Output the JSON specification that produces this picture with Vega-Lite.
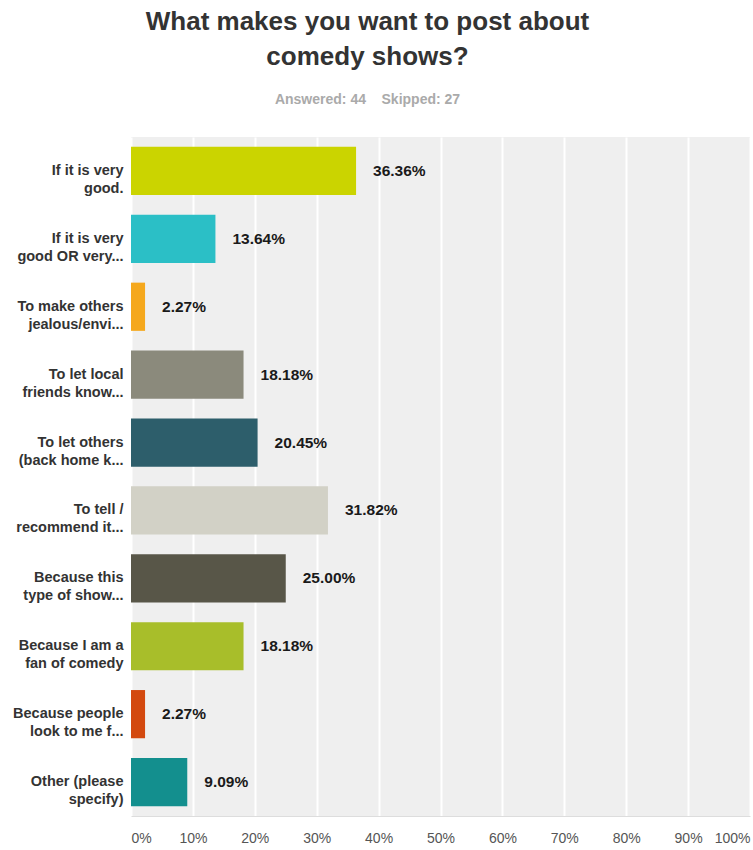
{
  "$schema": "https://vega.github.io/schema/vega-lite/v6.json",
  "width": 619,
  "height": 679,
  "autosize": {"type": "none"},
  "padding": {"left": 131, "top": 137, "right": 3, "bottom": 34},
  "background": "white",
  "title": {
    "text": ["What makes you want to post about", "comedy shows?"],
    "subtitle": "Answered: 44\u00a0\u00a0\u00a0\u00a0Skipped: 27",
    "anchor": "middle",
    "frame": "group",
    "dx": -73,
    "font": "Liberation Sans",
    "fontSize": 26,
    "fontWeight": "bold",
    "color": "#333333",
    "lineHeight": 35,
    "subtitleFont": "Liberation Sans",
    "subtitleFontSize": 14,
    "subtitleFontWeight": "bold",
    "subtitleColor": "#aaaaaa",
    "subtitlePadding": 23,
    "offset": 30
  },
  "data": {
    "values": [
      {"answer": "If it is very|good.", "pct": 0.3636, "color": "#cbd400"},
      {"answer": "If it is very|good OR very...", "pct": 0.1364, "color": "#2bbfc6"},
      {"answer": "To make others|jealous/envi...", "pct": 0.0227, "color": "#f5a81d"},
      {"answer": "To let local|friends know...", "pct": 0.1818, "color": "#8b8a7c"},
      {"answer": "To let others|(back home k...", "pct": 0.2045, "color": "#2d5e6b"},
      {"answer": "To tell /|recommend it...", "pct": 0.3182, "color": "#d2d1c6"},
      {"answer": "Because this|type of show...", "pct": 0.25, "color": "#585648"},
      {"answer": "Because I am a|fan of comedy", "pct": 0.1818, "color": "#a8be2a"},
      {"answer": "Because people|look to me f...", "pct": 0.0227, "color": "#d3490f"},
      {"answer": "Other (please|specify)", "pct": 0.0909, "color": "#138f8e"}
    ]
  },
  "config": {
    "view": {"fill": "#efefef", "stroke": null},
    "font": "Liberation Sans"
  },
  "encoding": {
    "y": {
      "field": "answer",
      "type": "nominal",
      "sort": null,
      "scale": {"paddingInner": 0.29, "paddingOuter": 0.145},
      "axis": {
        "title": null,
        "domain": false,
        "ticks": false,
        "grid": false,
        "labelExpr": "split(datum.value, '|')",
        "labelFont": "Liberation Sans",
        "labelFontSize": 14.5,
        "labelFontWeight": "bold",
        "labelColor": "#333333",
        "labelLineHeight": 18,
        "labelPadding": 8,
        "labelLimit": 200
      }
    }
  },
  "layer": [
    {
      "mark": {"type": "bar"},
      "encoding": {
        "x": {
          "field": "pct",
          "type": "quantitative",
          "scale": {"domain": [0, 1], "nice": false},
          "axis": {
            "title": null,
            "format": "%",
            "values": [0, 0.1, 0.2, 0.3, 0.4, 0.5, 0.6, 0.7, 0.8, 0.9, 1],
            "labelFlush": true,
            "labelFont": "Liberation Sans",
            "labelFontSize": 14,
            "labelColor": "#555555",
            "labelPadding": 15,
            "ticks": false,
            "domain": true,
            "domainColor": "#dddddd",
            "domainWidth": 1,
            "grid": true,
            "gridColor": "#ffffff",
            "gridWidth": 2
          }
        },
        "color": {"field": "color", "type": "nominal", "scale": null, "legend": null}
      }
    },
    {
      "mark": {
        "type": "text",
        "align": "left",
        "baseline": "middle",
        "dx": 17,
        "font": "Liberation Sans",
        "fontSize": 15.5,
        "fontWeight": "bold",
        "color": "#1a1a1a"
      },
      "encoding": {
        "x": {"field": "pct", "type": "quantitative"},
        "text": {"field": "pct", "type": "quantitative", "format": ".2%"}
      }
    }
  ]
}
